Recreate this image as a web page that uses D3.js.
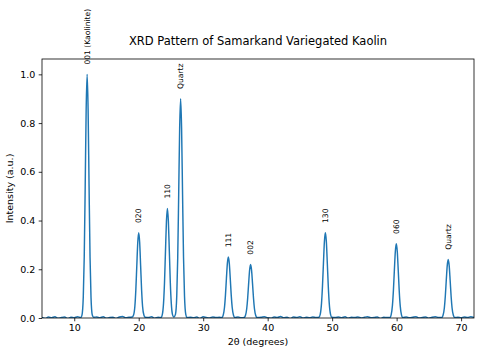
<!DOCTYPE html>
<html>
<head>
<meta charset="utf-8">
<script src="https://cdn.jsdelivr.net/npm/d3@7"></script>
<style>
  html, body { margin: 0; padding: 0; background: #fff; }
  svg { display: block; font-family: "DejaVu Sans", sans-serif; }
</style>
</head>
<body>
<svg id="chart" width="481" height="355"></svg>
<script>
// ---- data ----
const twoTheta = [
  5.0, 5.5, 6.0, 6.5, 7.0, 7.5, 8.0, 8.5, 9.0, 9.5, 10.0, 10.5,
  11.0, 11.2, 11.4, 11.55, 11.7, 11.85, 12.0, 12.15, 12.3, 12.45, 12.6, 12.8, 13.0,
  13.5, 14.0, 14.5, 15.0, 15.5, 16.0, 16.5, 17.0, 17.5, 18.0, 18.5,
  19.0, 19.2, 19.4, 19.55, 19.7, 19.85, 20.0, 20.15, 20.3, 20.45, 20.6, 20.8, 21.0,
  21.5, 22.0, 22.5, 23.0,
  23.45, 23.65, 23.85, 24.0, 24.15, 24.3, 24.45, 24.6, 24.75, 24.9, 25.05, 25.25, 25.45,
  25.7, 25.9, 26.05, 26.2, 26.35, 26.5, 26.65, 26.8, 26.95, 27.1, 27.3, 27.5,
  28.0, 28.5, 29.0, 29.5, 30.0, 30.5, 31.0, 31.5, 32.0, 32.5,
  32.9, 33.1, 33.3, 33.45, 33.6, 33.75, 33.9, 34.05, 34.2, 34.35, 34.5, 34.7, 34.9,
  35.4, 35.9,
  36.35, 36.55, 36.75, 36.9, 37.05, 37.2, 37.35, 37.5, 37.65, 37.8, 37.95, 38.15, 38.35,
  39.0, 39.5, 40.0, 40.5, 41.0, 41.5, 42.0, 42.5, 43.0, 43.5, 44.0, 44.5, 45.0, 45.5, 46.0, 46.5, 47.0, 47.5,
  47.95, 48.15, 48.35, 48.5, 48.65, 48.8, 48.95, 49.1, 49.25, 49.4, 49.55, 49.75, 49.95,
  50.5, 51.0, 51.5, 52.0, 52.5, 53.0, 53.5, 54.0, 54.5, 55.0, 55.5, 56.0, 56.5, 57.0, 57.5, 58.0, 58.5,
  58.95, 59.15, 59.35, 59.5, 59.65, 59.8, 59.95, 60.1, 60.25, 60.4, 60.55, 60.75, 60.95,
  61.5, 62.0, 62.5, 63.0, 63.5, 64.0, 64.5, 65.0, 65.5, 66.0, 66.5,
  67.0, 67.2, 67.4, 67.55, 67.7, 67.85, 68.0, 68.15, 68.3, 68.45, 68.6, 68.8, 69.0,
  69.5, 70.0, 70.5, 71.0, 71.5, 72.0
];
const intensity = [
  0.003, -0.002, 0.004, 0.001, 0.005, -0.001, 0.002, 0.004, -0.002, 0.003, 0.001, 0.005,
  0.002, 0.012, 0.085, 0.25, 0.54, 0.857, 1.0, 0.857, 0.54, 0.25, 0.085, 0.012, 0.003,
  0.004, 0.001, 0.005, -0.001, 0.002, 0.003, -0.002, 0.004, 0.006, 0.001, 0.003,
  0.004, 0.012, 0.047, 0.114, 0.212, 0.309, 0.35, 0.309, 0.212, 0.114, 0.047, 0.012, 0.003,
  0.002, 0.005, -0.001, 0.003,
  0.002, 0.013, 0.061, 0.146, 0.273, 0.397, 0.45, 0.397, 0.273, 0.146, 0.061, 0.013, 0.004,
  0.015, 0.091, 0.248, 0.507, 0.779, 0.9, 0.779, 0.507, 0.248, 0.091, 0.015, 0.002,
  0.003, 0.001, 0.004, -0.002, 0.005, 0.002, 0.000, 0.004, 0.002, 0.003,
  0.002, 0.011, 0.043, 0.093, 0.161, 0.224, 0.25, 0.224, 0.161, 0.093, 0.043, 0.011, 0.002,
  0.004, 0.001,
  0.002, 0.010, 0.038, 0.082, 0.142, 0.197, 0.22, 0.197, 0.142, 0.082, 0.038, 0.010, 0.002,
  0.003, 0.005, 0.001, -0.001, 0.004, 0.002, 0.006, 0.001, 0.003, -0.002, 0.004, 0.002, 0.005, 0.000, 0.003, 0.001, 0.004, 0.002,
  0.003, 0.015, 0.060, 0.130, 0.225, 0.314, 0.35, 0.314, 0.225, 0.130, 0.060, 0.015, 0.003,
  0.002, 0.004, 0.001, 0.005, -0.001, 0.003, 0.002, 0.004, 0.000, 0.003, 0.005, 0.001, 0.002, 0.004, -0.002, 0.003, 0.002,
  0.002, 0.013, 0.052, 0.113, 0.196, 0.273, 0.305, 0.273, 0.196, 0.113, 0.052, 0.013, 0.002,
  0.004, 0.001, 0.003, 0.005, 0.000, 0.002, 0.004, -0.001, 0.003, 0.005, 0.002,
  0.002, 0.011, 0.041, 0.089, 0.155, 0.215, 0.24, 0.215, 0.155, 0.089, 0.041, 0.011, 0.002,
  0.003, 0.001, 0.004, 0.002, 0.005, 0.002
];
const peakLabels = ["001 (Kaolinite)", "020", "110", "Quartz", "111", "002", "130", "060", "Quartz"];
const peakPositions = [12.0, 20.0, 24.45, 26.5, 33.9, 37.35, 48.95, 59.95, 68.0];
const peakHeights = [1.0, 0.35, 0.45, 0.9, 0.25, 0.22, 0.35, 0.305, 0.24];
const xTicks = [10, 20, 30, 40, 50, 60, 70];
const yTicks = [0.0, 0.2, 0.4, 0.6, 0.8, 1.0];
const xDomain = [5, 72];
const yDomain = [0, 1.063];

// ---- layout ----
const svg = d3.select("#chart");
const L = 42, R = 474, T = 59, B = 318;
const x = d3.scaleLinear().domain(xDomain).range([L, R]);
const y = d3.scaleLinear().domain(yDomain).range([B, T]);
const blue = "#1f77b4";

svg.append("defs").append("clipPath").attr("id", "plotclip")
  .append("rect").attr("x", L).attr("y", T).attr("width", R - L).attr("height", B - T);

// data line
const pts = twoTheta.map((t, i) => [t, intensity[i]]);
svg.append("path")
  .datum(pts)
  .attr("clip-path", "url(#plotclip)")
  .attr("fill", "none")
  .attr("stroke", blue)
  .attr("stroke-width", 1.45)
  .attr("stroke-linejoin", "round")
  .attr("d", d3.line().x(d => x(d[0])).y(d => y(d[1])).curve(d3.curveMonotoneX));

// axes
const xAxis = svg.append("g").attr("transform", `translate(0,${B})`)
  .call(d3.axisBottom(x).tickValues(xTicks).tickSize(3.3).tickPadding(3.3).tickFormat(d3.format("d")));
const yAxis = svg.append("g").attr("transform", `translate(${L},0)`)
  .call(d3.axisLeft(y).tickValues(yTicks).tickSize(3.3).tickPadding(3.3).tickFormat(d3.format(".1f")));
[xAxis, yAxis].forEach(g => {
  g.select(".domain").remove();
  g.selectAll("line").attr("stroke", "#000").attr("stroke-width", 0.8);
  g.selectAll("text").attr("fill", "#000").style("font-size", "9.5px").style("font-family", "DejaVu Sans");
});

// frame
svg.append("rect").attr("x", L).attr("y", T).attr("width", R - L).attr("height", B - T)
  .attr("fill", "none").attr("stroke", "#000").attr("stroke-width", 0.8);

// peak annotations
svg.append("g").selectAll("text")
  .data(peakLabels)
  .join("text")
  .attr("transform", (d, i) => `translate(${x(peakPositions[i])},${y(peakHeights[i] + 0.04)}) rotate(-90)`)
  .attr("text-anchor", "start")
  .attr("dominant-baseline", "central")
  .style("font-size", "7.6px")
  .attr("fill", "#000")
  .text(d => d);

// titles
svg.append("text").attr("x", (L + R) / 2).attr("y", 45).attr("text-anchor", "middle")
  .style("font-size", "11.5px").attr("fill", "#000").text("XRD Pattern of Samarkand Variegated Kaolin");
svg.append("text").attr("x", (L + R) / 2).attr("y", 345).attr("text-anchor", "middle")
  .style("font-size", "9.5px").attr("fill", "#000").text("2θ (degrees)");
svg.append("text").attr("transform", `translate(13,${(T + B) / 2}) rotate(-90)`).attr("text-anchor", "middle")
  .style("font-size", "9.5px").attr("fill", "#000").text("Intensity (a.u.)");
</script>
</body>
</html>
